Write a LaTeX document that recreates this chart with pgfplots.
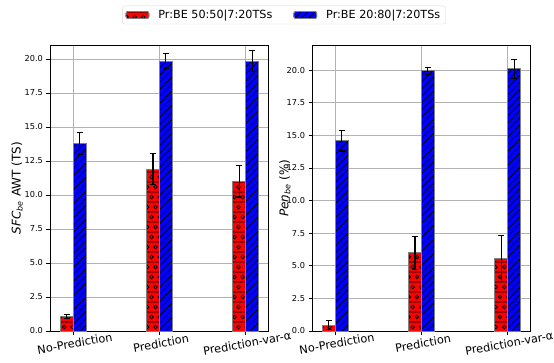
\documentclass[border=0pt]{standalone}
\usepackage{fontspec}
\setmainfont{DejaVu Sans}
\usepackage{pgfplots}
\pgfplotsset{compat=1.18}
\usetikzlibrary{patterns,patterns.meta}
\pgfdeclarepatternformonly{circlelines}{\pgfqpoint{-0.5pt}{-0.5pt}}{\pgfqpoint{8.8pt}{20.5pt}}{\pgfqpoint{8.3pt}{20pt}}{%
  \pgfsetlinewidth{0.8pt}%
  \pgfpathmoveto{\pgfqpoint{-0.5pt}{0pt}}\pgfpathlineto{\pgfqpoint{8.8pt}{0pt}}%
  \pgfpathmoveto{\pgfqpoint{-0.5pt}{10pt}}\pgfpathlineto{\pgfqpoint{8.8pt}{10pt}}%
  \pgfpathcircle{\pgfqpoint{2pt}{5pt}}{1.8pt}%
  \pgfpathcircle{\pgfqpoint{6.15pt}{15pt}}{1.8pt}%
  \pgfusepath{stroke}%
}
\pgfplotsset{
  common/.style={
    scale only axis, width=218pt, height=286pt,
    xmin=-0.27, xmax=2.26, ymin=0,
    xtick={0,1,2}, xticklabels={No-Prediction,Prediction,Prediction-var-α},
    ytick={0,2.5,5,7.5,10,12.5,15,17.5,20},
    /pgf/number format/assume math mode=true,
    yticklabel style={/pgf/number format/fixed,/pgf/number format/fixed zerofill,/pgf/number format/precision=1,font=\fontsize{8.2}{9}\selectfont},
    xticklabel style={rotate=10, anchor=north, font=\fontsize{11.3}{12}\selectfont, yshift=-1pt},
    grid=major, grid style={color=black!30, line width=0.8pt},
    tick align=outside, tick pos=left, major tick length=3.5pt,
    tick style={black, line width=0.8pt},
    axis line style={line width=0.8pt},
    ybar, bar width=0.15,
    error bars/y dir=both, error bars/y explicit,
    error bars/error bar style={line width=1.1pt, black},
    error bars/error mark options={rotate=90, mark size=3pt, line width=1.1pt, black},
    area legend,
  },
  redbar/.style={fill=red, draw=gray, line width=0.8pt, bar shift=-0.075, postaction={pattern=circlelines}},
  bluebar/.style={fill=blue, draw=gray, line width=0.8pt, bar shift=0.075, postaction={pattern={Lines[angle=45,distance=5pt,line width=0.75pt]}}},
}
\begin{document}
\begin{tikzpicture}
\path[use as bounding box] (0,0) rectangle (554pt,362pt);
\begin{axis}[common, at={(50pt,31pt)}, anchor=south west, ymax=21.03,
  ylabel={\fontsize{12}{13}\selectfont\textit{SFC\textsubscript{be}} AWT (TS)},
  every axis y label/.style={at={(axis description cs:-0.151,0.5)}, rotate=90, anchor=center, font=\fontsize{12}{13}\selectfont},
  legend columns=2,
  legend style={at={(1.073,1.105)}, anchor=center, font=\fontsize{11.2}{12}\selectfont, draw=black!15, rounded corners=2pt,
    /tikz/every odd column/.append style={column sep=7pt},
    /tikz/every even column/.append style={column sep=19pt}},
  legend image code/.code={\draw[#1] (0pt,-3.5pt) rectangle (23pt,3.5pt);},
]
\addplot[redbar] coordinates {(0,1.05) +- (0,0.15) (1,11.9) +- (0,1.15) (2,11.0) +- (0,1.15)};
\addplot[bluebar] coordinates {(0,13.8) +- (0,0.8) (1,19.85) +- (0,0.55) (2,19.85) +- (0,0.75)};
\legend{Pr:BE 50:50|7:20TSs, Pr:BE 20:80|7:20TSs}
\end{axis}
\begin{axis}[common, at={(312pt,31pt)}, anchor=south west, ymax=21.93,
  ylabel={\fontsize{12}{13}\selectfont\textit{Pen\textsubscript{be}} (\%)},
  every axis y label/.style={at={(axis description cs:-0.124,0.5)}, rotate=90, anchor=center, font=\fontsize{12}{13}\selectfont},
]
\addplot[redbar] coordinates {(0,0.45) +- (0,0.35) (1,6.0) +- (0,1.25) (2,5.55) +- (0,1.75)};
\addplot[bluebar] coordinates {(0,14.6) +- (0,0.8) (1,19.95) +- (0,0.25) (2,20.1) +- (0,0.75)};
\end{axis}
\end{tikzpicture}
\end{document}
